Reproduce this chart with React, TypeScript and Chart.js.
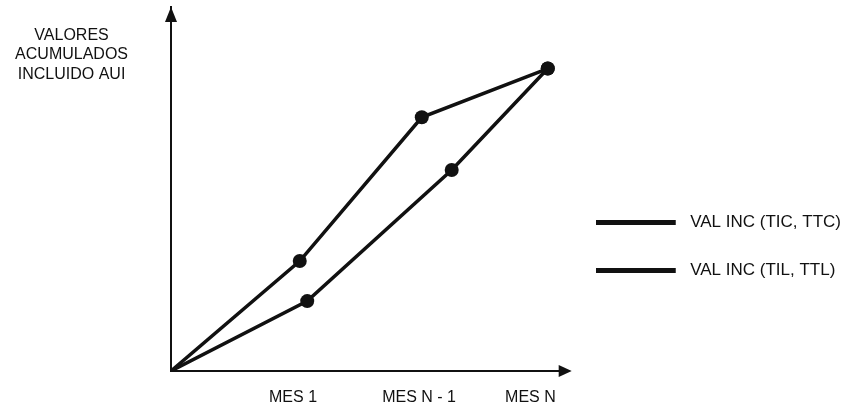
import React, { useEffect, useRef } from 'react';
import { Chart, registerables } from 'chart.js';

Chart.register(...registerables);

// ---- data ----
const SERIES_NAMES = ['VAL INC (TIC, TTC)', 'VAL INC (TIL, TTL)'];
const X_TIC = [0, 32.7, 63.7, 95.7];
const Y_TIC = [0, 30.2, 69.7, 83.1];
const X_TIL = [0, 34.6, 71.3, 95.7];
const Y_TIL = [0, 19.2, 55.2, 83.1];
const POINT_RADII = [0, 7, 7, 7];
const X_TICK_VALUES = [31, 63, 91.3];
const X_TICK_LABELS = ['MES 1', 'MES N - 1', 'MES N'];
const Y_CAPTION = ['VALORES', 'ACUMULADOS', 'INCLUIDO AUI'];
const Y_CAPTION_VALUE = 86.8;

const INK = '#111111';
const FONT = '"Liberation Sans", Arial, sans-serif';

const axisArrows = {
  id: 'axisArrows',
  afterDraw(chart: any) {
    const { ctx, chartArea } = chart;
    const { left, top, right, bottom } = chartArea;
    ctx.save();
    ctx.fillStyle = INK;
    ctx.beginPath();
    ctx.moveTo(left, top);
    ctx.lineTo(left - 6, top + 15);
    ctx.lineTo(left + 6, top + 15);
    ctx.closePath();
    ctx.fill();
    ctx.beginPath();
    ctx.moveTo(right + 7, bottom);
    ctx.lineTo(right - 6, bottom - 6);
    ctx.lineTo(right - 6, bottom + 6);
    ctx.closePath();
    ctx.fill();
    ctx.restore();
  },
};

export default function App() {
  const ref = useRef<HTMLCanvasElement>(null);

  useEffect(() => {
    if (!ref.current) return;

    const swatch = document.createElement('canvas');
    swatch.width = 86;
    swatch.height = 5;
    const sctx = swatch.getContext('2d');
    if (sctx) {
      sctx.fillStyle = INK;
      sctx.fillRect(0, 0, 80, 5);
    }

    const mk = (xs: number[], ys: number[]) => xs.map((x, i) => ({ x, y: ys[i] }));

    const chart = new Chart(ref.current, {
      type: 'line',
      data: {
        datasets: [
          {
            label: SERIES_NAMES[0],
            data: mk(X_TIC, Y_TIC),
            borderColor: INK,
            backgroundColor: INK,
            borderWidth: 3.5,
            pointRadius: POINT_RADII,
            pointBackgroundColor: INK,
            pointBorderWidth: 0,
            tension: 0,
            fill: false,
          },
          {
            label: SERIES_NAMES[1],
            data: mk(X_TIL, Y_TIL),
            borderColor: INK,
            backgroundColor: INK,
            borderWidth: 3.5,
            pointRadius: POINT_RADII,
            pointBackgroundColor: INK,
            pointBorderWidth: 0,
            tension: 0,
            fill: false,
          },
        ],
      },
      options: {
        animation: false,
        responsive: false,
        events: [],
        layout: { padding: { top: 4, left: 0, right: 0, bottom: 0 } },
        plugins: {
          tooltip: { enabled: false },
          legend: {
            position: 'right',
            align: 'start',
            maxWidth: 320,
            title: {
              display: true,
              text: '',
              padding: { top: 168.5, bottom: 0, left: 0, right: 0 },
              font: { size: 10, lineHeight: 1 },
            },
            labels: {
              usePointStyle: true,
              pointStyle: swatch as any,
              pointStyleWidth: 86,
              padding: 31,
              color: INK,
              font: { family: FONT, size: 17 },
            },
          },
        },
        scales: {
          x: {
            type: 'linear',
            min: 0,
            max: 100,
            afterBuildTicks: (s: any) => {
              s.ticks = X_TICK_VALUES.map((v) => ({ value: v }));
            },
            afterFit: (s: any) => {
              s.height = 43;
            },
            grid: { display: false, drawTicks: false },
            border: { display: true, color: INK, width: 2 },
            ticks: {
              autoSkip: false,
              maxRotation: 0,
              padding: 17,
              color: INK,
              font: { family: FONT, size: 16 },
              callback: (_v: any, i: number) => X_TICK_LABELS[i],
            },
          },
          y: {
            type: 'linear',
            min: 0,
            max: 100,
            afterBuildTicks: (s: any) => {
              s.ticks = [{ value: Y_CAPTION_VALUE }];
            },
            afterFit: (s: any) => {
              s.width = 171;
              s.paddingTop = 0;
              s.paddingBottom = 0;
            },
            grid: { display: false, drawTicks: false },
            border: { display: true, color: INK, width: 2 },
            ticks: {
              crossAlign: 'center',
              padding: 43,
              color: INK,
              font: { family: FONT, size: 16, lineHeight: 1.2 },
              callback: () => Y_CAPTION,
            },
          },
        },
      } as any,
      plugins: [axisArrows],
    });

    return () => chart.destroy();
  }, []);

  return (
    <div style={{ position: 'absolute', left: 0, top: 0, width: 851, height: 414, background: '#fff' }}>
      <canvas ref={ref} width={851} height={414} style={{ display: 'block' }} />
    </div>
  );
}
